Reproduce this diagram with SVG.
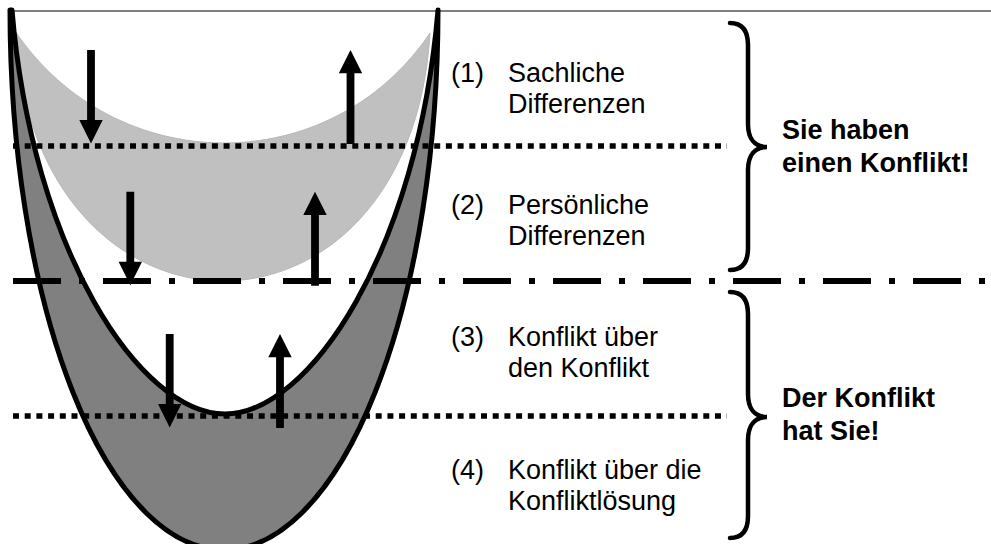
<svg xmlns="http://www.w3.org/2000/svg" width="991" height="544" viewBox="0 0 991 544">
<style>
.t{font-family:"Liberation Sans",Arial,sans-serif;font-size:27px;fill:#000}
.b{font-weight:bold}
.dot{fill:none;stroke:#000;stroke-width:5.5;stroke-dasharray:6 5.7}
.dd{fill:none;stroke:#000;stroke-width:6;stroke-dasharray:48 18 6 18}
.brace{fill:none;stroke:#000;stroke-width:4.5;stroke-linecap:round}
.arr{fill:#000}
</style>
<defs>
<path id="down" d="M-3.9,0 H3.9 V70 H11.7 L0,93.5 L-11.7,70 H-3.9 Z"/>
<path id="up" d="M0,0 L11.7,23.3 H3.9 V94 H-3.9 V23.3 H-11.7 Z"/>
</defs>
<rect width="991" height="544" fill="#fff"/>
<g id="light-crescent">
<path d="M15,31 C115,179 330,181 430,33 C410,365 35,363 15,31 Z" fill="#c0c0c0" stroke="#b8b8b8" stroke-width="1"/>
</g>
<g id="dark-crescent">
<path d="M10,10 A214,540 0 0 0 438,10 C418,250 310,414 225,414 C140,414 32,250 12,10 Z" fill="#808080" stroke="#000" stroke-width="5" stroke-linejoin="round"/>
</g>
<g id="connectors">
<line x1="13" y1="11" x2="991" y2="11" stroke="#000" stroke-width="1"/>
<line class="dot" x1="13" y1="146" x2="727" y2="146"/>
<line class="dot" x1="13" y1="416" x2="727" y2="416"/>
<line class="dd" x1="13" y1="281" x2="991" y2="281"/>
<use href="#down" class="arr" transform="translate(91,50)"/>
<use href="#up" class="arr" transform="translate(350.5,50)"/>
<use href="#down" class="arr" transform="translate(130.3,191.7)"/>
<use href="#up" class="arr" transform="translate(315,191.7)"/>
<use href="#down" class="arr" transform="translate(169.7,334)"/>
<use href="#up" class="arr" transform="translate(280,334)"/>
</g>
<g id="brace1">
<path class="brace" d="M730,23 C742,23 748,30 748,45 V124 C748,139 755,147 767,147 C755,147 748,155 748,170 V248 C748,263 742,270 730,270"/>
</g>
<g id="brace2">
<path class="brace" d="M730,292 C742,292 748,299 748,314 V394 C748,409 755,417 767,417 C755,417 748,425 748,440 V516 C748,531 742,538 730,538"/>
</g>
<g id="label1">
<text class="t" x="451" y="82">(1)</text>
<text class="t" x="508" y="82">Sachliche</text>
<text class="t" x="508" y="113">Differenzen</text>
</g>
<g id="label2">
<text class="t" x="451" y="214">(2)</text>
<text class="t" x="508" y="214">Persönliche</text>
<text class="t" x="508" y="245">Differenzen</text>
</g>
<g id="label3">
<text class="t" x="451" y="346">(3)</text>
<text class="t" x="508" y="346">Konflikt über</text>
<text class="t" x="508" y="377">den Konflikt</text>
</g>
<g id="label4">
<text class="t" x="451" y="479">(4)</text>
<text class="t" x="508" y="479">Konflikt über die</text>
<text class="t" x="508" y="510">Konfliktlösung</text>
</g>
<g id="summary1">
<text class="t b" x="782" y="139">Sie haben</text>
<text class="t b" x="782" y="172">einen Konflikt!</text>
</g>
<g id="summary2">
<text class="t b" x="782" y="407">Der Konflikt</text>
<text class="t b" x="782" y="440">hat Sie!</text>
</g>
</svg>
